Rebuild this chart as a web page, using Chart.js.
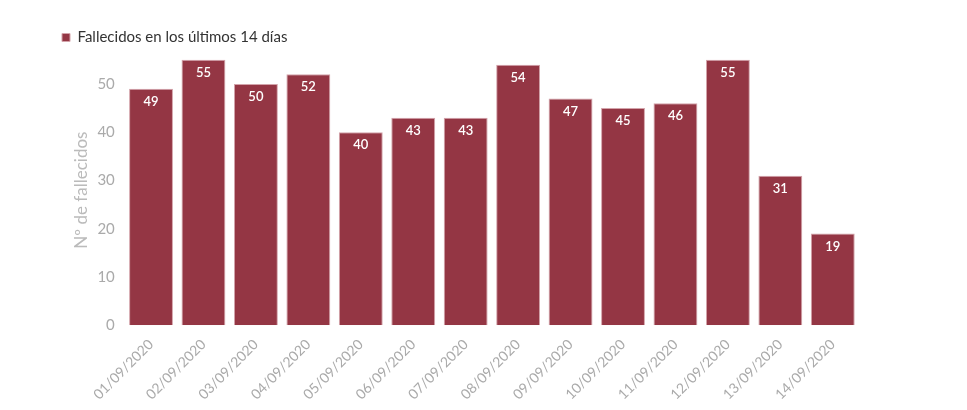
<!DOCTYPE html>
<html>
<head>
<meta charset="utf-8">
<script src="https://cdn.jsdelivr.net/npm/chart.js@4"></script>
<style>
  html, body { margin: 0; padding: 0; background: #fff; }
  #wrap { width: 967px; height: 410px; }
</style>
</head>
<body>
<div id="wrap"><canvas id="myChart"></canvas></div>
<script>
const fechas = ['01/09/2020', '02/09/2020', '03/09/2020', '04/09/2020', '05/09/2020', '06/09/2020', '07/09/2020',
  '08/09/2020', '09/09/2020', '10/09/2020', '11/09/2020', '12/09/2020', '13/09/2020', '14/09/2020'];
const fallecidos = [49, 55, 50, 52, 40, 43, 43, 54, 47, 45, 46, 55, 31, 19];
const yTicks = [0, 10, 20, 30, 40, 50];

// etiquetas blancas dentro de cada barra
const valoresPlugin = {
  id: 'valores',
  afterDatasetsDraw(chart) {
    const ctx = chart.ctx;
    const meta = chart.getDatasetMeta(0);
    ctx.save();
    ctx.fillStyle = '#ffffff';
    ctx.font = '600 13px Lato';
    ctx.textAlign = 'center';
    ctx.textBaseline = 'middle';
    meta.data.forEach((bar, i) => {
      ctx.fillText(fallecidos[i], bar.x, bar.y + 13);
    });
    ctx.restore();
  }
};

Chart.defaults.font.family = 'Lato';

new Chart(document.getElementById('myChart'), {
  type: 'bar',
  data: {
    labels: fechas,
    datasets: [
      {
        label: 'Fallecidos en los últimos 14 días',
        data: fallecidos,
        backgroundColor: '#943644',
        borderColor: '#d3a3aa',
        borderWidth: 1,
        barPercentage: 0.9,
        categoryPercentage: 0.93,
      },
    ],
  },
  options: {
    responsive: true,
    maintainAspectRatio: false,
    animation: false,
    layout: { padding: { left: 46, right: 108, top: 14, bottom: 4 } },
    plugins: {
      legend: {
        position: 'top',
        align: 'start',
        labels: {
          boxWidth: 8,
          boxHeight: 8,
          color: '#333',
          font: { size: 15 },
          padding: 16,
        },
      },
      tooltip: { enabled: false },
    },
    scales: {
      x: {
        grid: { display: false },
        border: { display: false },
        ticks: {
          color: '#aaa',
          font: { size: 14 },
          maxRotation: 45,
          minRotation: 45,
        },
      },
      y: {
        min: 0,
        max: 56,
        grid: { display: false },
        border: { display: false },
        afterBuildTicks: (axis) => {
          axis.ticks = yTicks.map((v) => ({ value: v }));
        },
        ticks: {
          color: '#aaa',
          font: { size: 15 },
          padding: 2,
        },
        title: {
          display: true,
          text: 'Nº de fallecidos',
          color: '#bbb',
          font: { size: 17 },
          padding: { top: 25, bottom: 4 },
        },
      },
    },
  },
  plugins: [valoresPlugin],
});
</script>
</body>
</html>
